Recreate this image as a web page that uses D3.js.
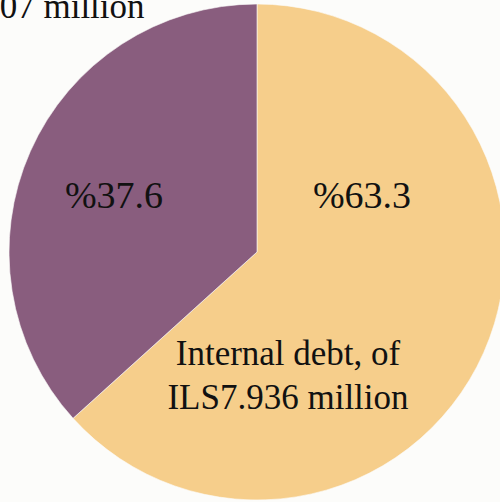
<!DOCTYPE html>
<html><head><meta charset="utf-8">
<script src="https://cdn.jsdelivr.net/npm/d3@7"></script>
<style>html,body{margin:0;padding:0;background:#fcfcfa;overflow:hidden}</style>
</head><body>
<svg id="c" width="500" height="502"></svg>
<script>
const categories = ["Internal debt", "External debt"];
const values = [63.3, 36.7];
const percentLabels = ["%63.3", "%37.6"];
const nameLines = [["Internal debt, of", "ILS7.936 million"], ["External debt, of", "ILS4.607 million"]];
const colors = ["#f6ce8b", "#895d7e"];

const svg = d3.select("#c");
const cx = 257, cy = 252, R = 248;
const g = svg.append("g").attr("transform", `translate(${cx},${cy})`);
const pie = d3.pie().sort(null).value(d => d)(values);
const arc = d3.arc().innerRadius(0).outerRadius(R);
g.selectAll("path").data(pie).enter().append("path")
  .attr("d", arc).attr("fill", (d, i) => colors[i])
  .attr("stroke", "#fcfcfa").attr("stroke-width", 0.6);

const font = "Liberation Serif";
const pctPos = [[362 - cx, 208 - cy], [114 - cx, 208 - cy]];
g.selectAll("text.pct").data(pie).enter().append("text").attr("class", "pct")
  .attr("x", (d, i) => pctPos[i][0]).attr("y", (d, i) => pctPos[i][1])
  .attr("text-anchor", "middle").attr("font-family", font).attr("font-size", 38)
  .attr("fill", "#111").text((d, i) => percentLabels[i]);

const namePos = [[288 - cx, 365 - cy], [24 - cx, -26 - cy]];
pie.forEach((d, i) => {
  const t = g.append("text").attr("text-anchor", "middle")
    .attr("font-family", font).attr("font-size", 35).attr("fill", "#111");
  nameLines[i].forEach((ln, j) => {
    t.append("tspan").attr("x", namePos[i][0]).attr("y", namePos[i][1] + j * 44).text(ln);
  });
});
</script>
</body></html>
